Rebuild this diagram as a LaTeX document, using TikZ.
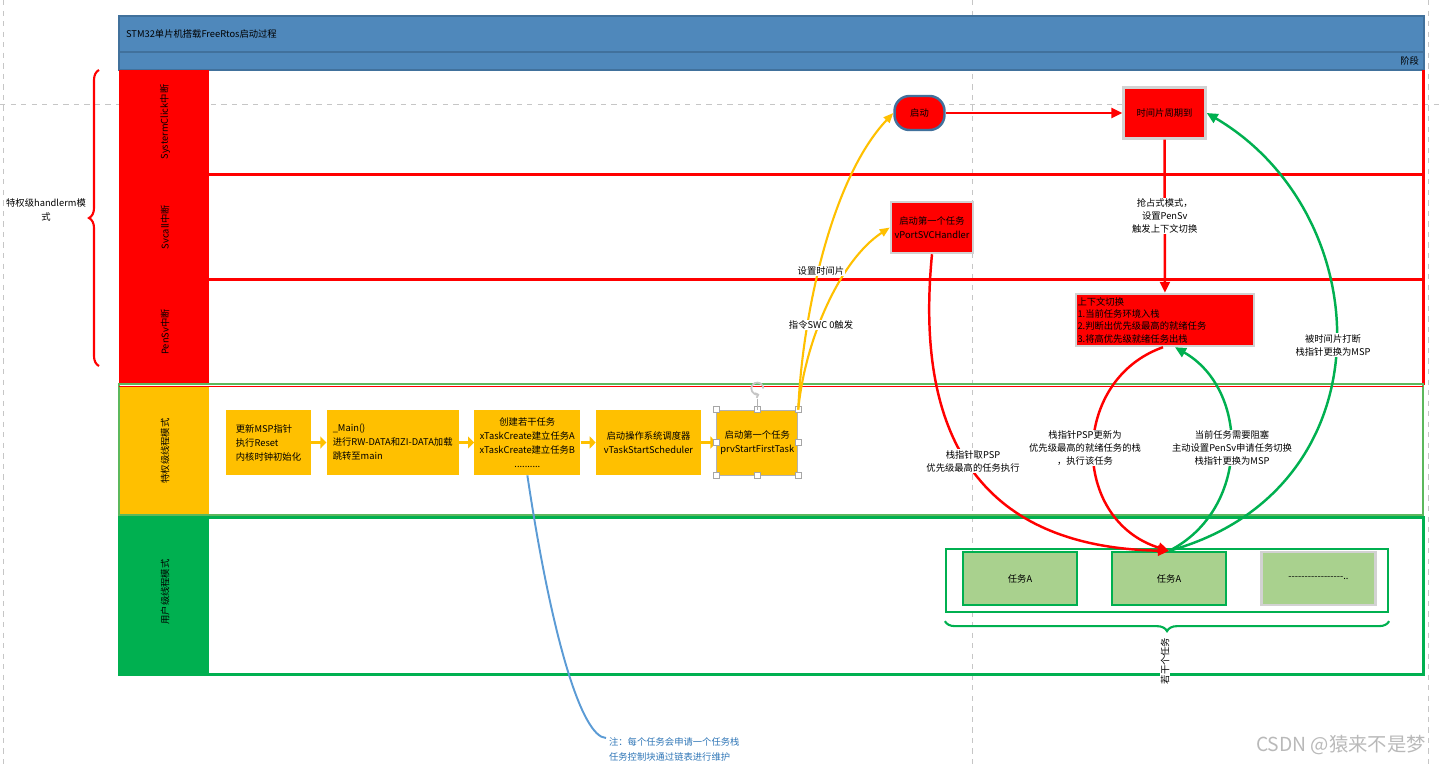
\documentclass[tikz,border=0pt]{standalone}
\usepackage{fontspec}
\setmainfont{Noto Sans CJK SC}
\usetikzlibrary{arrows.meta,positioning,decorations.pathreplacing}
\definecolor{headblue}{RGB}{79,136,187}
\definecolor{headedge}{RGB}{65,113,156}
\definecolor{stepyellow}{RGB}{255,192,0}
\definecolor{usergreen}{RGB}{0,176,80}
\definecolor{taskfill}{RGB}{169,209,142}
\definecolor{lanegreen}{RGB}{92,184,92}
\definecolor{noteblue}{RGB}{91,155,213}
\definecolor{notetext}{RGB}{46,117,182}

\begin{document}
\begin{tikzpicture}[
    x=0.02cm, y=-0.02cm,
    node distance=0.3cm,
    every node/.style={font=\fontsize{5.3}{8}\selectfont, inner sep=1pt},
    stepbox/.style={
        fill=stepyellow,
        align=center,
        minimum height=1.3cm,
        inner sep=2pt
    },
    redbox/.style={
        draw=gray!35,
        line width=1.4pt,
        fill=red,
        align=center,
        minimum width=1.64cm,
        minimum height=1.02cm
    },
    taskbox/.style={
        draw=usergreen,
        line width=1.3pt,
        fill=taskfill,
        minimum width=2.28cm,
        minimum height=1.06cm
    },
    lanelabel/.style={rotate=90},
    flowtext/.style={
        fill=white,
        align=center,
        inner sep=0.5pt,
        font=\fontsize{5.3}{7.4}\selectfont
    },
    handle/.style={draw=gray!70, fill=white, line width=0.4pt, minimum size=0.12cm, inner sep=0pt},
    steparrow/.style={draw=stepyellow, line width=1.6pt, -{Triangle[length=0.12cm,width=0.24cm]}},
    yellowarrow/.style={draw=stepyellow, line width=1.2pt, -{Triangle[length=0.2cm,width=0.16cm]}},
    redarrow/.style={draw=red, line width=1.4pt, -{Triangle[length=0.22cm,width=0.2cm]}},
    greenarrow/.style={draw=usergreen, line width=1.4pt, -{Triangle[length=0.22cm,width=0.2cm]}},
    pagebreak/.style={draw=gray!45, dashed, line width=0.5pt}
]
\useasboundingbox (0,0) rectangle (1442,765);

% page breaks
\draw[pagebreak] (0,104) -- (1442,104);
\draw[pagebreak] (3,0) -- (3,765);
\draw[pagebreak] (972,0) -- (972,765);
\draw[pagebreak] (1428,0) -- (1428,765);

% header
\draw[headedge, fill=headblue, line width=1pt] (119,16) rectangle (1424,52);
\draw[headedge, fill=headblue, line width=1pt] (119,52) rectangle (1424,70);
\node[anchor=west] (title) at (124,34) {STM32单片机搭载FreeRtos启动过程};
\node[anchor=east] (stage) at (1421,61) {阶段};

% lanes
\fill[red] (119,70) rectangle (209,384);
\draw[red, line width=1.7pt] (209,174) -- (1423,174);
\draw[red, line width=1.7pt] (209,279) -- (1423,279);
\draw[red, line width=1.7pt] (1423,70) -- (1423,385);
\fill[stepyellow] (119,386) rectangle (209,516);
\draw[lanegreen, line width=1.4pt] (119,384) rectangle (1423,515);
\draw[red, line width=0.6pt] (119,386.5) -- (1423,386.5);
\fill[usergreen] (119,517) rectangle (209,674);
\draw[usergreen, line width=1.7pt] (119,517) rectangle (1423,674);

\node[lanelabel] (lanetick) at (165,122) {SystermClick中断};
\node[lanelabel] (lanesvc) at (165,227) {Svcall中断};
\node[lanelabel] (lanepend) at (165,332) {PenSv中断};
\node[lanelabel] (lanepriv) at (165,451) {特权级线程模式};
\node[lanelabel] (laneuser) at (165,592) {用户级线程模式};

% handler mode brace
\draw[red, line width=1.2pt, decorate, decoration={brace, amplitude=0.2cm}]
(99,366) -- (99,70);
\node[align=center] (handlermode) at (46,210) {特权级handlerm模\\式};

% privileged thread steps
\node[stepbox, minimum width=1.7cm, align=left] (reset) at (268.5,442.5)
{更新MSP指针\\执行Reset\\内核时钟初始化};

\node[stepbox, minimum width=2.64cm, align=left, right=of reset] (mainfn)
{\_Main()\\进行RW-DATA和ZI-DATA加载\\跳转至main};

\node[stepbox, minimum width=2.12cm, right=of mainfn] (create)
{创建若干任务\\xTaskCreate建立任务A\\xTaskCreate建立任务B\\..........};

\node[stepbox, minimum width=2.1cm, right=of create] (sched)
{启动操作系统调度器\\vTaskStartScheduler};

\node[stepbox, minimum width=1.62cm, draw=gray!60, line width=0.5pt, right=of sched] (first)
{启动第一个任务\\prvStartFirstTask};

\draw[steparrow] (reset) -- (mainfn);
\draw[steparrow] (mainfn) -- (create);
\draw[steparrow] (create) -- (sched);
\draw[steparrow] (sched) -- (first);

% selection handles
\foreach \a in {north west,north,north east,east,south east,south,south west,west}
    \node[handle] at (first.\a) {};
\draw[gray!60, line width=0.4pt] (first.north) -- ++(0,-11) coordinate (rotbase);
\draw[gray!45, line width=1pt, -{Straight Barb[length=0.05cm]}]
([xshift=0.12cm, yshift=0.2cm]rotbase) arc[start angle=0, end angle=290, radius=0.12cm];

% interrupt handlers
\node[redbox, draw=headedge, rounded corners=0.3cm, minimum width=1cm, minimum height=0.68cm] (boot)
at (919.5,113) {启动};

\node[redbox] (slice) at (1164.5,113) {时间片周期到};

\node[redbox] (svchandler) at (932,227.5)
{启动第一个任务\\vPortSVCHandler};

\node[redbox, align=left, text width=3.5cm, minimum height=1.04cm, inner sep=1pt,
      font=\fontsize{5.3}{7}\selectfont] (ctxswitch) at (1165,320)
{上下文切换\\1.当前任务环境入栈\\2.判断出优先级最高的就绪任务\\3.将高优先级就绪任务出栈};

% user tasks
\node[draw=usergreen, line width=1.3pt, minimum width=8.84cm, minimum height=1.26cm] (taskpool)
at (1167,580.5) {};
\node[taskbox] (taska) at (1020,578.5) {任务A};
\node[taskbox] (taskb) at (1169,578.5) {任务A};
\node[taskbox, draw=gray!35] (taskmore) at (1318.5,578.5) {-{}-{}-{}-{}-{}-{}-{}-{}-{}-{}-{}-{}-{}-{}-{}-{}-{}..};

\draw[usergreen, line width=1.2pt, decorate, decoration={brace, mirror, amplitude=0.2cm}]
([yshift=-0.16cm]taskpool.south west) -- ([yshift=-0.16cm]taskpool.south east);
\node[lanelabel, fill=white, inner sep=0.5pt] (taskcount) at (1165,661) {若干个任务};

% connectors
\draw[yellowarrow] (first.north east) .. controls (802,320) and (830,180) .. (boot.west);
\draw[yellowarrow] (first.north east) .. controls (805,340) and (840,260) .. (svchandler.west);
\draw[redarrow] (boot) -- (slice);
\draw[redarrow] (slice) --
node[flowtext] (preempt) {抢占式模式，\\设置PenSv\\触发上下文切换}
(ctxswitch);
\draw[redarrow] (svchandler.south) .. controls (910,480) and (1020,548) .. (taskb.north);
\draw[redarrow] ([xshift=-0.04cm]ctxswitch.south) .. controls (1070,380) and (1070,520) .. (taskb.north);
\draw[greenarrow] (taskb.north) .. controls (1250,510) and (1250,390) .. ([xshift=0.2cm]ctxswitch.south);
\draw[greenarrow] (taskb.north) .. controls (1390,490) and (1380,215) .. (slice.east);

\node[flowtext] (settick) at (821,271) {设置时间片};
\node[flowtext] (svctrigger) at (821,325) {指令SWC 0触发};
\node[flowtext] (takepsp) at (973,461) {栈指针取PSP\\优先级最高的任务执行};
\node[flowtext] (switchpsp) at (1085,448) {栈指针PSP更新为\\优先级最高的就绪任务的栈\\，执行该任务};
\node[flowtext] (blocktask) at (1232,448) {当前任务需要阻塞\\主动设置PenSv申请任务切换\\栈指针更换为MSP};
\node[flowtext] (preempted) at (1333,345) {被时间片打断\\栈指针更换为MSP};

% note
\coordinate (notehook) at (606,738);
\draw[noteblue, line width=1.1pt] (create.south) .. controls (552,640) and (582,737) .. (notehook);
\node[anchor=west, text=notetext, align=left, font=\fontsize{5.3}{8.5}\selectfont] (tasknote) at (607,749.5)
{注：每个任务会申请一个任务栈\\任务控制块通过链表进行维护};

\node[anchor=east, text=gray!55, font=\fontsize{11}{13}\selectfont] (watermark) at (1428,745) {CSDN @猿来不是梦};

\end{tikzpicture}
\end{document}
